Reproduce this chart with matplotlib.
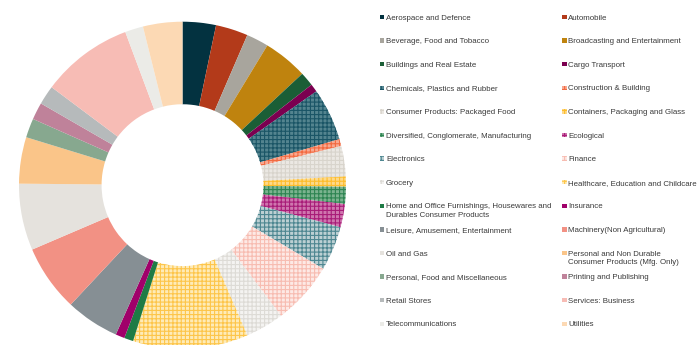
import matplotlib
matplotlib.use("Agg")
import matplotlib.pyplot as plt
from matplotlib.patches import Rectangle

labels = [
    "Aerospace and Defence", "Automobile",
    "Beverage, Food and Tobacco", "Broadcasting and Entertainment",
    "Buildings and Real Estate", "Cargo Transport",
    "Chemicals, Plastics and Rubber", "Construction & Building",
    "Consumer Products: Packaged Food", "Containers, Packaging and Glass",
    "Diversified, Conglomerate, Manufacturing", "Ecological",
    "Electronics", "Finance",
    "Grocery", "Healthcare, Education and Childcare",
    "Home and Office Furnishings, Housewares and\nDurables Consumer Products", "Insurance",
    "Leisure, Amusement, Entertainment", "Machinery(Non Agricultural)",
    "Oil and Gas", "Personal and Non Durable\nConsumer Products (Mfg. Only)",
    "Personal, Food and Miscellaneous", "Printing and Publishing",
    "Retail Stores", "Services: Business",
    "Telecommunications", "Utilities",
]

values = [3.3, 3.2, 2.2, 4.4, 1.4, 0.8, 5.2, 0.7, 3.0, 1.0, 1.7, 2.3, 4.4, 6.2,
          3.8, 11.4, 0.9, 0.9, 5.3, 6.6, 6.6, 4.6, 1.9, 1.7, 1.9, 9.1, 1.8, 3.9]

face_colors = [
    "#033240", "#b33a1a", "#a8a59d", "#bf830e", "#1b5e36", "#7b0050",
    "#53848f", "#f8a890", "#ebe8e3", "#fed98a", "#7bb38f", "#cf76ae",
    "#bcd0d3", "#fde9e5", "#f4f3f1", "#feebb8",
    "#1e7b45", "#a0006a", "#868f94", "#f29184", "#e5e2dd", "#fac589",
    "#87a88f", "#bf829a", "#b6babb", "#f7bcb5", "#ebebe7", "#fcd9b4",
]
hatch_colors = [
    None, None, None, None, None, None,
    "#1a5566", "#f26a40", "#d8d4cc", "#fdbd2c", "#2d8552", "#a81c78",
    "#4e8791", "#f7bcb1", "#dddbd6", "#fdc54a",
    None, None, None, None, None, None, None, None, None, None, None, None,
]

W, H = 699, 345
plt.rcParams["hatch.linewidth"] = 0.8
plt.rcParams["font.family"] = ["Liberation Sans", "DejaVu Sans"]

fig = plt.figure(figsize=(W / 100, H / 100), dpi=100)
ax = fig.add_axes([0, 0, 1, 1])

cx, cy, R = 182.5, 185.2, 163.5
wedges, _ = ax.pie(values, startangle=90, counterclock=False, radius=1,
                   colors=face_colors,
                   wedgeprops=dict(width=0.505, linewidth=0))
for w, fc, hc in zip(wedges, face_colors, hatch_colors):
    if hc is not None:
        w.set_hatch("++++")
        w.set_edgecolor(hc)
        w.set_linewidth(0)
    else:
        w.set_edgecolor(fc)
ax.set_xlim(-cx / R, (W - cx) / R)
ax.set_ylim(-(H - cy) / R, cy / R)
ax.set_aspect("equal")
ax.axis("off")

# legend drawn manually in two columns
col_x = [380.0, 562.0]
row0, row_step = 17.0, 23.6
sq = 4.5
for i, (lab, fc, hc) in enumerate(zip(labels, face_colors, hatch_colors)):
    col = i % 2
    row = i // 2
    y = row0 + row * row_step
    x = col_x[col]
    rect = Rectangle(((x) / W, 1 - (y + sq / 2) / H), sq / W, sq / H,
                     transform=fig.transFigure, facecolor=fc,
                     edgecolor=hc if hc else fc, linewidth=0,
                     hatch="++++" if hc else None)
    fig.patches.append(rect)
    for k, line in enumerate(lab.split("\n")):
        fig.text((x + 6.0) / W, 1 - (y + 1.2 + k * 8.6) / H, line,
                 fontsize=5.7, color="#3a3a3a", va="center", ha="left")

fig.savefig("out.png", dpi=100)
